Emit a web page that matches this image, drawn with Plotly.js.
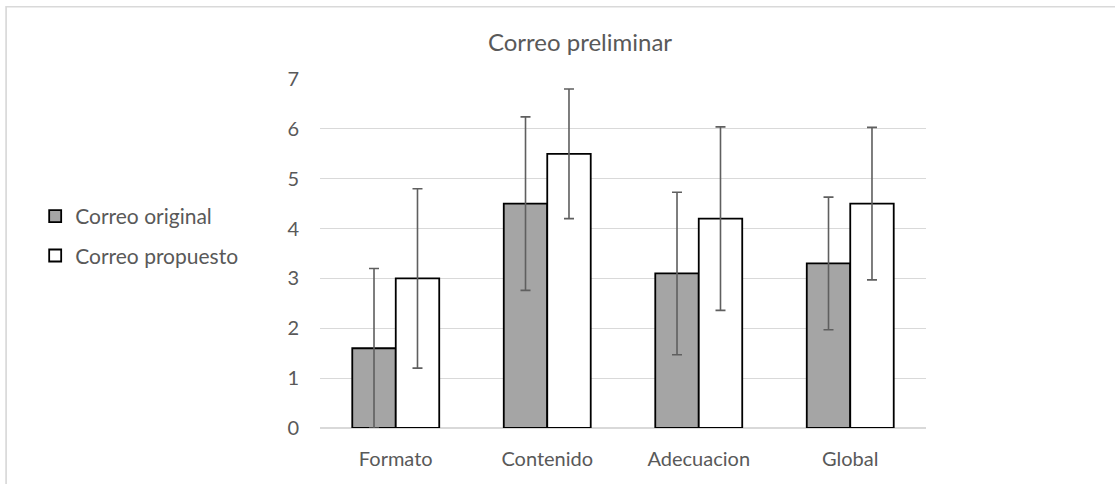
<!DOCTYPE html>
<html>
<head>
<meta charset="utf-8">
<script src="https://cdn.plot.ly/plotly-3.0.1.min.js"></script>
<style>html,body{margin:0;padding:0;background:#fff;}#chart{width:1115px;height:484px;}</style>
</head>
<body>
<div id="chart"></div>
<script>
const categories = ["Formato", "Contenido", "Adecuacion", "Global"];
const seriesNames = ["Correo original", "Correo propuesto"];
const originalValues = [1.6, 4.5, 3.1, 3.3];
const originalErrors = [1.6, 1.74, 1.63, 1.33];
const proposedValues = [3.0, 5.5, 4.2, 4.5];
const proposedErrors = [1.8, 1.3, 1.84, 1.53];
const yTicks = [0, 1, 2, 3, 4, 5, 6, 7];

const textColor = '#595959';
const font = 'Lato, "Open Sans", sans-serif';

const errStyle = (arr) => ({type: 'data', array: arr, visible: true, color: '#5f5f5f', thickness: 1.6, width: 5});

const traces = [
  {type: 'bar', name: seriesNames[0], x: categories, y: originalValues,
   marker: {color: '#a5a5a5', line: {color: '#000000', width: 1.8}},
   error_y: errStyle(originalErrors), legendgroup: 'a'},
  {type: 'bar', name: seriesNames[1], x: categories, y: proposedValues,
   marker: {color: '#ffffff', line: {color: '#000000', width: 1.8}},
   error_y: errStyle(proposedErrors), legendgroup: 'b'}
];

const layout = {
  width: 1115, height: 484,
  margin: {l: 320, r: 189, t: 79, b: 56, pad: 0},
  paper_bgcolor: '#ffffff', plot_bgcolor: '#ffffff',
  font: {family: font, color: textColor, size: 20},
  title: {text: 'Correo preliminar', font: {family: font, size: 24, color: textColor},
          xref: 'paper', x: 0.429, xanchor: 'center', yref: 'container', y: 0.911, yanchor: 'middle'},
  barmode: 'group', bargap: 0.426, bargroupgap: 0,
  showlegend: true,
  legend: {x: -0.47, xanchor: 'left', y: 0.55, yanchor: 'middle', traceorder: 'grouped',
           tracegroupgap: 9, font: {family: font, size: 21, color: textColor}, bgcolor: 'rgba(0,0,0,0)'},
  xaxis: {type: 'category', showgrid: false, showline: false, zeroline: false, ticks: '',
          tickfont: {family: font, size: 20, color: textColor}, ticklabelstandoff: 17, fixedrange: true},
  yaxis: {range: [0, 7], tickvals: yTicks, ticktext: yTicks.map(String), showgrid: true, gridcolor: '#d9d9d9', gridwidth: 1.2,
          zeroline: true, zerolinecolor: '#d9d9d9', zerolinewidth: 1.5, showline: false, ticks: '',
          tickfont: {family: font, size: 20, color: textColor}, ticklabelstandoff: 20, fixedrange: true},
  shapes: [
    {type: 'rect', xref: 'paper', yref: 'paper', x0: -0.518, x1: 1.6, y0: -0.5, y1: 1.207,
     line: {color: '#d9d9d9', width: 1.7}, fillcolor: 'rgba(0,0,0,0)', layer: 'below'}
  ]
};

Plotly.newPlot('chart', traces, layout, {displayModeBar: false, staticPlot: true});
</script>
</body>
</html>
